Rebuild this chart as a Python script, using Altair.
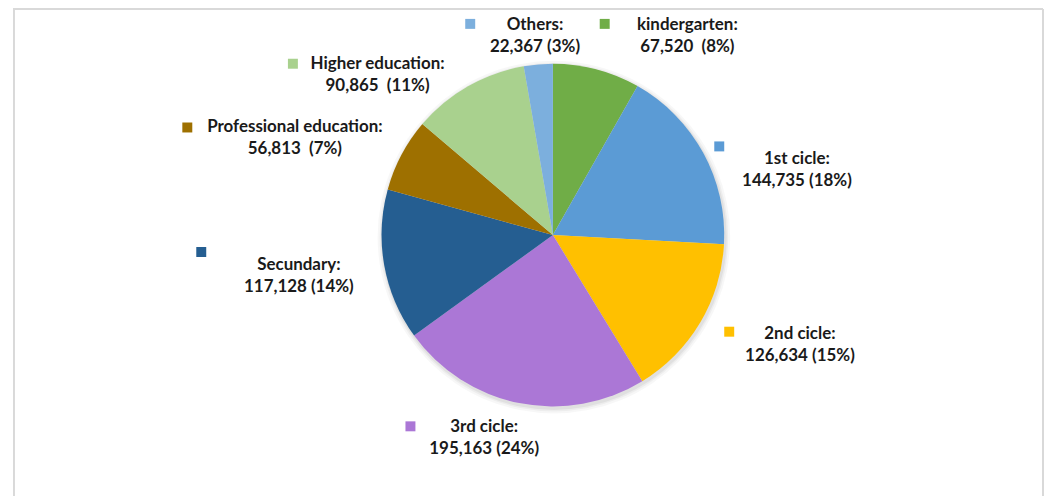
import altair as alt
import pandas as pd

categories = ["kindergarten", "1st cicle", "2nd cicle", "3rd cicle", "Secundary",
              "Professional education", "Higher education", "Others"]
values = [67520, 144735, 126634, 195163, 117128, 56813, 90865, 22367]
colors = ["#70AD47", "#5B9BD5", "#FFC000", "#AB77D6", "#255E91",
          "#9E7000", "#A9D18E", "#7CAFDD"]
gaps = [" \u00a0", " ", " ", " ", " ", " \u00a0", " \u00a0", " "]

# label layout (plot-area pixels), not data
label_x = [682, 792, 795, 478, 292, 288, 371, 529]
label_y = [16, 151, 326, 420, 257, 119, 55, 16]
sq_x = [599, 714, 724, 404, 194, 180, 286, 464]
sq_y = [15, 138, 324, 419, 244, 119, 55, 15]

total = sum(values)
df = pd.DataFrame({
    "cat": categories,
    "val": values,
    "idx": list(range(len(values))),
    "label": [f"{c}:\n{v:,}{g}({round(v / total * 100)}%)" for c, v, g in zip(categories, values, gaps)],
    "lx": label_x, "ly": label_y, "sx": sq_x, "sy": sq_y,
})

W, H = 1040, 489
CX, CY, R = 547, 227, 172
FONT = "Lato"

color = alt.Color("cat:N", scale=alt.Scale(domain=categories, range=colors), legend=None)
base = alt.Chart(df)

one = pd.DataFrame({"a": [0]})
shadows = [
    alt.Chart(one).mark_arc(color="#000000", radius=r, opacity=o).encode(
        theta=alt.value(0), theta2=alt.value(6.2832),
        x=alt.value(CX + 1), y=alt.value(CY + 2))
    for r, o in [(177, 0.03), (175, 0.04), (173.5, 0.05)]
]

pie = base.mark_arc(radius=R, stroke=None).encode(
    theta=alt.Theta("val:Q", stack=True),
    color=color,
    order=alt.Order("idx:Q"),
    x=alt.value(CX), y=alt.value(CY),
)

squares = base.mark_square(size=100, opacity=1, filled=True).encode(
    x=alt.X("sx:Q", scale=None, axis=None),
    y=alt.Y("sy:Q", scale=None, axis=None),
    color=color,
)

labels = base.mark_text(font=FONT, fontSize=17, fontWeight="bold", color="#1a1a1a",
                        align="center", baseline="middle", lineBreak="\n",
                        lineHeight=22).encode(
    x=alt.X("lx:Q", scale=None, axis=None),
    y=alt.Y("ly:Q", scale=None, axis=None),
    text="label:N",
)

frame_col = "#d9d9d9"
top = alt.Chart(one).mark_rule(color=frame_col, strokeWidth=2).encode(
    x=alt.value(5), x2=alt.value(1039), y=alt.value(0))
left = alt.Chart(one).mark_rule(color=frame_col, strokeWidth=2).encode(
    x=alt.value(6), y=alt.value(0), y2=alt.value(H))
right = alt.Chart(one).mark_rule(color=frame_col, strokeWidth=2).encode(
    x=alt.value(1039), y=alt.value(0), y2=alt.value(H))

chart = alt.layer(*shadows, pie, squares, labels, top, left, right).properties(
    width=W, height=H, padding=0, autosize=alt.AutoSizeParams(type="none"),
    background="white",
).configure_view(stroke=None)

chart.save("out.html", embed_options={"renderer": "svg", "actions": False})
